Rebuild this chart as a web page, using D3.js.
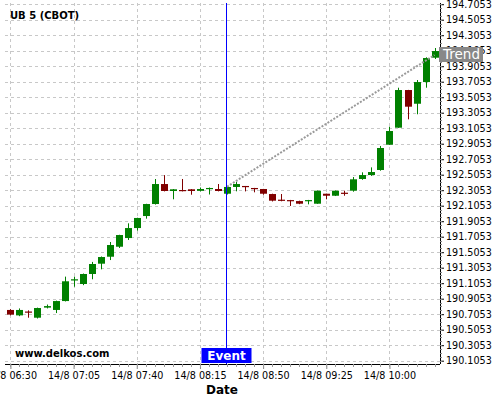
<!DOCTYPE html>
<html>
<head>
<meta charset="utf-8">
<script src="https://cdn.jsdelivr.net/npm/d3@7"></script>
<style>
html,body{margin:0;padding:0;background:#fff;}
svg{display:block;font-family:"DejaVu Sans",sans-serif;}
</style>
</head>
<body>
<svg id="chart" width="500" height="400"></svg>
<script>
// ---- data ----
const title = "UB 5 (CBOT)";
const dateLabel = "14/8";
const times = ["06:30","06:35","06:40","06:45","06:50","06:55","07:00","07:05","07:10","07:15",
  "07:20","07:25","07:30","07:35","07:40","07:45","07:50","07:55","08:00","08:05",
  "08:10","08:15","08:20","08:25","08:30","08:35","08:40","08:45","08:50","08:55",
  "09:00","09:05","09:10","09:15","09:20","09:25","09:30","09:35","09:40","09:45",
  "09:50","09:55","10:00","10:05","10:10","10:15","10:20","10:25"];
const open  = [190.76,190.69,190.74,190.66,190.79,190.76,190.875,191.14,191.095,191.224,
  191.357,191.447,191.576,191.688,191.817,191.972,192.127,192.385,192.295,192.308,
  192.317,192.297,192.321,192.321,192.26,192.347,192.36,192.334,192.321,192.256,
  192.183,192.178,192.165,192.165,192.131,192.26,192.234,192.273,192.299,192.45,
  192.501,192.566,192.892,193.112,193.598,193.421,193.701,194.015];
const high  = [190.77,190.78,190.755,190.79,190.83,190.88,191.19,191.19,191.23,191.38,
  191.45,191.637,191.73,191.878,191.95,192.13,192.45,192.50,192.32,192.45,
  192.32,192.34,192.34,192.385,192.36,192.411,192.36,192.335,192.322,192.26,
  192.256,192.18,192.17,192.18,192.30,192.26,192.30,192.299,192.475,192.536,
  192.60,192.876,193.125,193.628,193.60,193.727,194.02,194.14];
const low   = [190.69,190.68,190.66,190.65,190.78,190.72,190.87,191.06,191.08,191.156,
  191.284,191.404,191.56,191.663,191.783,191.938,192.12,192.29,192.188,192.29,
  192.247,192.29,192.25,192.29,192.25,192.291,192.29,192.278,192.247,192.16,
  192.162,192.102,192.125,192.123,192.13,192.188,192.23,192.234,192.286,192.44,
  192.49,192.557,192.89,193.11,193.22,193.285,193.628,193.998];
const close = [190.70,190.76,190.73,190.785,190.81,190.875,191.13,191.156,191.224,191.353,
  191.443,191.598,191.727,191.817,191.947,192.127,192.385,192.295,192.317,192.295,
  192.295,192.321,192.334,192.295,192.347,192.385,192.345,192.325,192.26,192.17,
  192.17,192.165,192.131,192.178,192.299,192.234,192.299,192.26,192.446,192.501,
  192.54,192.85,193.069,193.598,193.383,193.701,194.011,194.101];
const yTicks = [190.1053,190.3053,190.5053,190.7053,190.9053,191.1053,191.3053,191.5053,
  191.7053,191.9053,192.1053,192.3053,192.5053,192.7053,192.9053,193.1053,193.3053,
  193.5053,193.7053,193.9053,194.1053,194.3053,194.5053,194.7053];
const xTickTimes = ["06:30","07:05","07:40","08:15","08:50","09:25","10:00"];
const xDomainTimes = ["06:27","10:28"];
const yDomain = [190.0627, 194.721];
const eventTime = "08:30";
const eventText = "Event";
const trendStart = {time:"08:30", value:192.35};
const trendEnd = {time:"10:25", value:194.05};
const trendText = "Trend";
const watermark = "www.delkos.com";
const xTitle = "Date";

// ---- layout ----
const L = 5, R = 440, T = 3, B = 364;
const toDate = s => { const [h,m] = s.split(":").map(Number); return new Date(Date.UTC(2000,7,14,h,m)); };
const svg = d3.select("#chart");
const x = d3.scaleUtc().domain(xDomainTimes.map(toDate)).range([L, R]);
const y = d3.scaleLinear().domain(yDomain).range([B, T]);
const fmtTime = d3.utcFormat("%H:%M");

// grid
const grid = svg.append("g");
grid.selectAll("line.h").data(yTicks).join("line")
  .attr("x1", L).attr("x2", R)
  .attr("y1", d => Math.round(y(d)) + 0.5).attr("y2", d => Math.round(y(d)) + 0.5)
  .attr("stroke", "#c8c8c8").attr("stroke-dasharray", "3,3");
grid.selectAll("line.v").data(xTickTimes).join("line")
  .attr("x1", d => Math.round(x(toDate(d))) + 0.5).attr("x2", d => Math.round(x(toDate(d))) + 0.5)
  .attr("y1", T).attr("y2", B)
  .attr("stroke", "#c8c8c8").attr("stroke-dasharray", "3,3");

// axes
const yAxis = d3.axisRight(y).tickValues(yTicks).tickFormat(d => d.toFixed(4)).tickSize(4).tickPadding(2);
const gy = svg.append("g").attr("transform", `translate(${R},0)`).call(yAxis);
gy.select(".domain").attr("d", `M0.5,${T}V${B}`).attr("stroke", "#000");
gy.selectAll("text").attr("font-size", "9.6px").attr("fill", "#000").attr("font-family", "DejaVu Sans");
// minor y ticks
const minorY = d3.range(0, 4.61, 0.05).map(k => 190.1053 + k);
svg.append("g").selectAll("line").data(minorY).join("line")
  .attr("x1", R).attr("x2", R + 2)
  .attr("y1", d => Math.round(y(d)) + 0.5).attr("y2", d => Math.round(y(d)) + 0.5)
  .attr("stroke", "#888");

const xAxis = d3.axisBottom(x).tickValues(xTickTimes.map(toDate))
  .tickFormat(d => dateLabel + " " + fmtTime(d)).tickSize(5).tickPadding(3);
const gx = svg.append("g").attr("transform", `translate(0,${B})`).call(xAxis);
gx.select(".domain").attr("d", `M${L},0.5H${R}`).attr("stroke", "#000");
gx.selectAll("text").attr("font-size", "9.6px").attr("fill", "#000").attr("font-family", "DejaVu Sans");
gx.selectAll(".tick line").attr("stroke", "#888");
// minor x ticks
svg.append("g").selectAll("line").data(times).join("line")
  .attr("x1", d => Math.round(x(toDate(d))) + 0.5).attr("x2", d => Math.round(x(toDate(d))) + 0.5)
  .attr("y1", B).attr("y2", B + 3).attr("stroke", "#999");

// candles
const cw = 7;
const candles = svg.append("g");
times.forEach((t, i) => {
  const cx = x(toDate(t));
  const up = close[i] >= open[i];
  const col = up ? "#008000" : "#800000";
  candles.append("line")
    .attr("x1", Math.round(cx) + 0.5).attr("x2", Math.round(cx) + 0.5)
    .attr("y1", y(high[i])).attr("y2", y(low[i]))
    .attr("stroke", col).attr("stroke-width", 1);
  const top = y(Math.max(open[i], close[i]));
  const bot = y(Math.min(open[i], close[i]));
  candles.append("rect")
    .attr("x", Math.round(cx) + 0.5 - cw / 2).attr("width", cw)
    .attr("y", top).attr("height", Math.max(1.2, bot - top))
    .attr("fill", col);
});

// trend line
svg.append("line")
  .attr("x1", x(toDate(trendStart.time))).attr("y1", y(trendStart.value))
  .attr("x2", x(toDate(trendEnd.time))).attr("y2", y(trendEnd.value))
  .attr("stroke", "#9a9a9a").attr("stroke-width", 2).attr("stroke-dasharray", "2,1.5");

// event line
const ex = Math.round(x(toDate(eventTime))) - 0.5;
svg.append("line").attr("x1", ex).attr("x2", ex).attr("y1", T).attr("y2", B)
  .attr("stroke", "#0000ff").attr("stroke-width", 1);
svg.append("rect").attr("x", ex - 25).attr("y", 348).attr("width", 50).attr("height", 15).attr("fill", "#0000ff");
svg.append("text").attr("x", ex).attr("y", 360).attr("text-anchor", "middle")
  .attr("font-size", "12px").attr("font-weight", "bold").attr("fill", "#fff").text(eventText);

// trend label
const ty = y(trendEnd.value);
svg.append("rect").attr("x", R - 1).attr("y", ty - 8).attr("width", 44).attr("height", 15).attr("fill", "#888");
svg.append("text").attr("x", R + 3).attr("y", ty + 4.5)
  .attr("font-size", "13.5px").attr("fill", "#fff").text(trendText);

// texts
svg.append("text").attr("x", 10).attr("y", 19).attr("font-size", "10px").attr("font-weight", "bold").text(title);
svg.append("text").attr("x", 15).attr("y", 357).attr("font-size", "10px").attr("font-weight", "bold").text(watermark);
svg.append("text").attr("x", 222).attr("y", 394).attr("text-anchor", "middle")
  .attr("font-size", "12px").attr("font-weight", "bold").text(xTitle);
</script>
</body>
</html>
